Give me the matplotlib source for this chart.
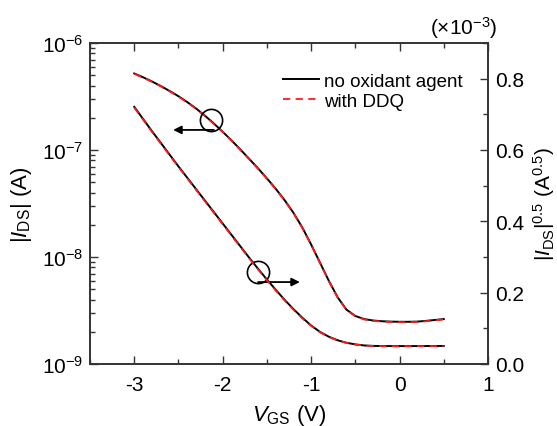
import numpy as np
import matplotlib
matplotlib.use("Agg")
import matplotlib.pyplot as plt
from matplotlib.ticker import MultipleLocator, LogLocator, NullFormatter, FixedLocator

plt.rcParams['font.family'] = 'Liberation Sans'
plt.rcParams['mathtext.fontset'] = 'custom'
plt.rcParams['mathtext.rm'] = 'Liberation Sans'
plt.rcParams['mathtext.it'] = 'Liberation Sans:italic'
plt.rcParams['axes.unicode_minus'] = False

# gate voltage (V)
vgs = [-3.0, -2.9, -2.8, -2.7, -2.6, -2.5, -2.4, -2.3, -2.2, -2.1, -2.0, -1.9,
       -1.8, -1.7, -1.6, -1.5, -1.4, -1.3, -1.2, -1.1, -1.0, -0.9, -0.8, -0.7,
       -0.6, -0.5, -0.4, -0.3, -0.2, -0.1, 0.0, 0.1, 0.2, 0.3, 0.4, 0.5]

# |I_DS| (A), left log axis
ids_ref = [5.19e-7, 4.78e-7, 4.37e-7, 3.96e-7, 3.56e-7, 3.18e-7, 2.80e-7, 2.44e-7,
           2.09e-7, 1.77e-7, 1.48e-7, 1.23e-7, 1.01e-7, 8.26e-8, 6.73e-8, 5.43e-8,
           4.34e-8, 3.40e-8, 2.59e-8, 1.89e-8, 1.31e-8, 8.87e-9, 6.00e-9, 4.20e-9,
           3.22e-9, 2.81e-9, 2.63e-9, 2.55e-9, 2.51e-9, 2.49e-9, 2.48e-9, 2.48e-9,
           2.49e-9, 2.53e-9, 2.58e-9, 2.63e-9]
ids_ddq = [5.15e-7, 4.74e-7, 4.34e-7, 3.93e-7, 3.53e-7, 3.15e-7, 2.78e-7, 2.42e-7,
           2.07e-7, 1.75e-7, 1.47e-7, 1.22e-7, 1.00e-7, 8.19e-8, 6.67e-8, 5.38e-8,
           4.30e-8, 3.37e-8, 2.57e-8, 1.87e-8, 1.30e-8, 8.80e-9, 5.95e-9, 4.17e-9,
           3.20e-9, 2.79e-9, 2.61e-9, 2.53e-9, 2.49e-9, 2.47e-9, 2.46e-9, 2.46e-9,
           2.47e-9, 2.51e-9, 2.56e-9, 2.61e-9]

# |I_DS|^0.5 (x1e-3 A^0.5), right linear axis
sq_ref = [0.721, 0.687, 0.653, 0.620, 0.587, 0.554, 0.522, 0.490, 0.458, 0.426,
          0.394, 0.362, 0.330, 0.298, 0.267, 0.237, 0.208, 0.180, 0.154, 0.130,
          0.108, 0.090, 0.0765, 0.0665, 0.0595, 0.055, 0.052, 0.0508, 0.0503, 0.0502,
          0.0502, 0.0502, 0.0503, 0.0504, 0.0505, 0.0506]
sq_ddq = [0.719, 0.685, 0.651, 0.618, 0.585, 0.552, 0.520, 0.488, 0.456, 0.424,
          0.392, 0.360, 0.328, 0.296, 0.265, 0.235, 0.206, 0.178, 0.152, 0.128,
          0.107, 0.089, 0.0758, 0.0660, 0.0590, 0.0545, 0.0516, 0.0504, 0.0499, 0.0498,
          0.0498, 0.0498, 0.0499, 0.0500, 0.0501, 0.0502]

fig = plt.figure(figsize=(5.57, 4.27), dpi=100)
ax = fig.add_axes([0.1616, 0.1452, 0.7145, 0.7518])
ax2 = ax.twinx()

ax.plot(vgs, ids_ref, color='black', lw=1.4, label='no oxidant agent')
ax.plot(vgs, ids_ddq, color='#ff1a1a', lw=1.3, ls=(0, (4, 3)), label='with DDQ')
ax2.plot(vgs, sq_ref, color='black', lw=1.4)
ax2.plot(vgs, sq_ddq, color='#ff1a1a', lw=1.3, ls=(0, (4, 3)))

ax.set_yscale('log')
ax.set_xlim(-3.5, 1)
ax.set_ylim(1e-9, 1e-6)
ax2.set_ylim(0, 0.9)

ax.xaxis.set_major_locator(MultipleLocator(1))
ax.xaxis.set_minor_locator(MultipleLocator(0.5))
ax.xaxis.set_major_formatter(plt.FuncFormatter(lambda v, p: f'{v:.0f}'))
ax.yaxis.set_major_locator(FixedLocator([1e-9, 1e-8, 1e-7, 1e-6]))
ax.yaxis.set_major_formatter(plt.FuncFormatter(lambda v, p: r'$10^{%d}$' % round(np.log10(v))))
ax.yaxis.set_minor_locator(LogLocator(base=10, subs=np.arange(2, 10)))
ax.yaxis.set_minor_formatter(NullFormatter())
ax2.yaxis.set_major_locator(MultipleLocator(0.2))
ax2.yaxis.set_minor_locator(MultipleLocator(0.1))
ax2.yaxis.set_major_formatter(plt.FuncFormatter(lambda v, p: f'{v:.1f}'))

for a in (ax, ax2):
    for s in a.spines.values():
        s.set_linewidth(1.2)
        s.set_color('#333333')
ax.tick_params(which='both', direction='in', top=True, right=False, labelsize=15,
               color='#333333', width=1.0, pad=5)
ax.tick_params(which='major', length=6)
ax.tick_params(which='minor', length=3.5)
ax2.tick_params(which='both', direction='in', labelsize=15, color='#333333', width=1.0, pad=5)
ax2.tick_params(which='major', length=6)
ax2.tick_params(which='minor', length=3.5)
ax.tick_params(axis='x', pad=8)

ax.set_xlabel(r'$V_{\rm GS}$ (V)', fontsize=16)
ax.set_ylabel(r'|$I_{\rm DS}$| (A)', fontsize=16)
ax2.set_ylabel(r'|$I_{\rm DS}$|$^{0.5}$ (A$^{0.5}$)', fontsize=15)
ax.xaxis.set_label_coords(0.5, -0.118)
ax.yaxis.set_label_coords(-0.141, 0.5)
ax2.yaxis.set_label_coords(1.108, 0.5)
fig.text(0.833, 0.935, r'($\times$10$^{-3}$)', fontsize=15, ha='center', va='center')

# guide circles and arrows
ax.plot([-2.133], [1.9e-7], marker='o', ms=16, mfc='none', mec='black', mew=1.2)
ax.annotate('', xy=(-2.56, 1.54e-7), xytext=(-2.10, 1.54e-7),
            arrowprops=dict(arrowstyle='-|>', color='black', lw=1.3, mutation_scale=12,
                            shrinkA=0, shrinkB=0))
ax.plot([-1.602], [7.24e-9], marker='o', ms=16, mfc='none', mec='black', mew=1.2)
ax.annotate('', xy=(-1.127, 5.83e-9), xytext=(-1.60, 5.83e-9),
            arrowprops=dict(arrowstyle='-|>', color='black', lw=1.3, mutation_scale=12,
                            shrinkA=0, shrinkB=0))

ax.legend(loc='upper left', frameon=False, fontsize=13.5, handlelength=1.9,
          handletextpad=0.3, labelspacing=0.15, borderpad=0, borderaxespad=0,
          bbox_to_anchor=(0.485, 0.907))

fig.savefig('out.png', dpi=100)
